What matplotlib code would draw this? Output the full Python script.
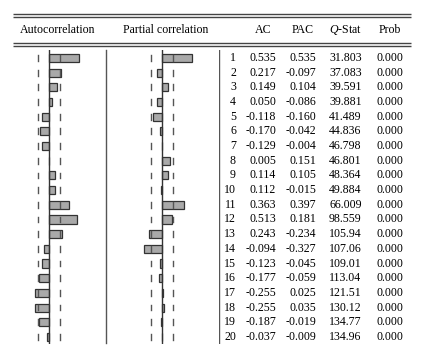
import matplotlib
matplotlib.use("Agg")
import matplotlib.pyplot as plt
import numpy as np

lags = list(range(1, 21))
ac = [0.535, 0.217, 0.149, 0.050, -0.118, -0.170, -0.129, 0.005, 0.114, 0.112,
      0.363, 0.513, 0.243, -0.094, -0.123, -0.177, -0.255, -0.255, -0.187, -0.037]
pac = [0.535, -0.097, 0.104, -0.086, -0.160, -0.042, -0.004, 0.151, 0.105, -0.015,
       0.397, 0.181, -0.234, -0.327, -0.045, -0.059, 0.025, 0.035, -0.019, -0.009]
qstat = ["31.803", "37.083", "39.591", "39.881", "41.489", "44.836", "46.798", "46.801",
         "48.364", "49.884", "66.009", "98.559", "105.94", "107.06", "109.01", "113.04",
         "121.51", "130.12", "134.77", "134.96"]
prob = ["0.000"] * 20
headers = ["Autocorrelation", "Partial correlation", "AC", "PAC", "Q-Stat", "Prob"]
bound = 0.193

W, H = 426, 354
plt.rcParams['font.family'] = ['Liberation Serif', 'DejaVu Serif']
plt.rcParams['mathtext.fontset'] = 'custom'
plt.rcParams['mathtext.it'] = 'Liberation Serif:italic'
plt.rcParams['mathtext.rm'] = 'Liberation Serif'
fig = plt.figure(figsize=(W / 100, H / 100), dpi=100)
FS = 8.6

# background axes in pixel coordinates for rules and headers
bg = fig.add_axes([0, 0, 1, 1])
bg.set_xlim(0, W)
bg.set_ylim(H, 0)
bg.axis("off")
for y in (14.3, 16.8, 43.3, 45.8):
    bg.plot([13, 411], [y, y], color="#444444", lw=1.0, solid_capstyle="butt")
bg.plot([106, 106], [50, 343], color="#555555", lw=1.0)

hy = 30
bg.text(58, hy, headers[0], ha="center", va="center", fontsize=FS)
bg.text(166, hy, headers[1], ha="center", va="center", fontsize=FS)
bg.text(263, hy, headers[2], ha="center", va="center", fontsize=FS)
bg.text(303, hy, headers[3], ha="center", va="center", fontsize=FS)
bg.text(346, hy, r"$\it{Q}$" + "-Stat", ha="center", va="center", fontsize=FS)
bg.text(390, hy, headers[5], ha="center", va="center", fontsize=FS)

# vertical geometry (pixels)
y_top, y_bot = 50, 344
row0, dy = 58, 14.68
ylim_top = 1 - (row0 - y_top) / dy
ylim_bot = 20 + (y_bot - (row0 + 19 * dy)) / dy
scale = 55.5  # px per unit


def panel(x0, x1, zero, vals):
    ax = fig.add_axes([x0 / W, 1 - y_bot / H, (x1 - x0) / W, (y_bot - y_top) / H])
    ax.set_xlim((x0 - zero) / scale, (x1 - zero) / scale)
    ax.set_ylim(ylim_bot, ylim_top)
    ax.axis("off")
    ax.barh(lags, vals, height=0.55, left=0, color="#a9a9a9",
            edgecolor="#333333", linewidth=0.9)
    ax.axvline(0, color="#333333", lw=1.0)
    for l in lags:
        for b in (-bound, bound):
            ax.plot([b, b], [l - 0.2, l + 0.2], color="#555555", lw=1.0)
    return ax


panel(8, 104, 49, ac)
panel(110, 214, 162, pac)

# table axes
tb = fig.add_axes([219 / W, 1 - y_bot / H, (W - 219) / W, (y_bot - y_top) / H])
tb.set_xlim(219, W)
tb.set_ylim(ylim_bot, ylim_top)
tb.axis("off")
tb.axvline(219, color="#555555", lw=1.0)
for i, l in enumerate(lags):
    tb.text(236, l, str(l), ha="right", va="center", fontsize=FS)
    tb.text(276, l, f"{ac[i]:.3f}", ha="right", va="center", fontsize=FS)
    tb.text(316, l, f"{pac[i]:.3f}", ha="right", va="center", fontsize=FS)
    tb.text(329, l, qstat[i], ha="left", va="center", fontsize=FS)
    tb.text(390, l, prob[i], ha="center", va="center", fontsize=FS)

fig.savefig("out.png", dpi=100)
